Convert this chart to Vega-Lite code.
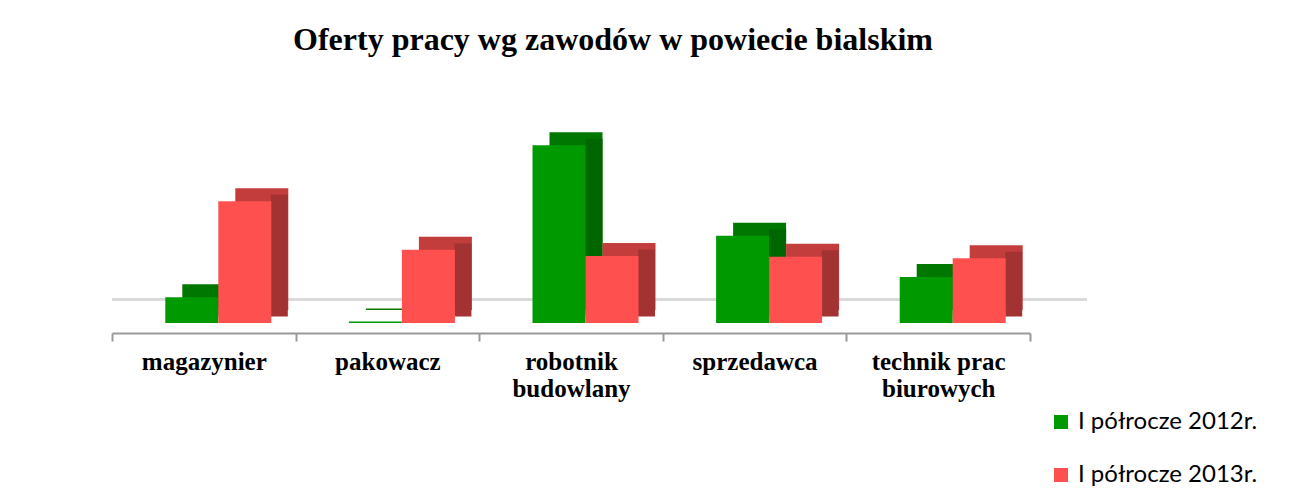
{
  "$schema": "https://vega.github.io/schema/vega-lite/v6.json",
  "width": 918,
  "height": 223,
  "autosize": {"type": "none"},
  "padding": {"left": 112, "top": 100, "right": 270, "bottom": 174},
  "background": "white",
  "config": {"view": {"stroke": null}},
  "title": {
    "text": "Oferty pracy wg zawodów w powiecie bialskim",
    "font": "Liberation Serif",
    "fontSize": 32,
    "fontWeight": "bold",
    "color": "#000000",
    "anchor": "middle",
    "dx": 42,
    "offset": 43
  },
  "data": {
    "values": [
      {"job": "magazynier", "series": "I półrocze 2012r.", "value": 3.3},
      {"job": "pakowacz", "series": "I półrocze 2012r.", "value": 0.2},
      {"job": "robotnik budowlany", "series": "I półrocze 2012r.", "value": 22.8},
      {"job": "sprzedawca", "series": "I półrocze 2012r.", "value": 11.2},
      {"job": "technik prac biurowych", "series": "I półrocze 2012r.", "value": 5.9},
      {"job": "magazynier", "series": "I półrocze 2013r.", "value": 15.6},
      {"job": "pakowacz", "series": "I półrocze 2013r.", "value": 9.4},
      {"job": "robotnik budowlany", "series": "I półrocze 2013r.", "value": 8.6},
      {"job": "sprzedawca", "series": "I półrocze 2013r.", "value": 8.5},
      {"job": "technik prac biurowych", "series": "I półrocze 2013r.", "value": 8.3}
    ]
  },
  "encoding": {
    "x": {
      "field": "job",
      "type": "nominal",
      "sort": null,
      "scale": {"paddingInner": 0, "paddingOuter": 0},
      "axis": {
        "title": null,
        "labelAngle": 0,
        "labelFont": "Liberation Serif",
        "labelFontSize": 25,
        "labelFontWeight": "bold",
        "labelColor": "#000000",
        "labelLineHeight": 27,
        "labelBaseline": "top",
        "labelPadding": 8,
        "labelLimit": 0,
        "labelExpr": "isString(datum.value) ? (datum.value == 'technik prac biurowych' ? ['technik prac', 'biurowych'] : split(datum.value, ' ')) : ''",
        "domainColor": "#999999",
        "domainWidth": 2,
        "tickColor": "#999999",
        "tickWidth": 2,
        "tickSize": 8,
        "tickBand": "extent",
        "offset": 10,
        "grid": false
      }
    },
    "y": {
      "field": "value",
      "type": "quantitative",
      "scale": {"domain": [0, 28.6], "nice": false},
      "axis": null
    }
  },
  "layer": [
    {
      "mark": {"type": "rule", "color": "#d9d9d9", "strokeWidth": 2, "xOffset": 57},
      "encoding": {"y": {"datum": 3}, "x": null}
    },
    {
      "transform": [{"filter": "datum.series == 'I półrocze 2012r.'"}],
      "mark": {"type": "bar", "width": 53, "xOffset": 5, "yOffset": -13, "color": "#007700"}
    },
    {
      "transform": [{"filter": "datum.series == 'I półrocze 2012r.'"}],
      "mark": {"type": "bar", "width": 17, "xOffset": 23, "yOffset": -6.5, "color": "#006600"}
    },
    {
      "transform": [{"filter": "datum.series == 'I półrocze 2012r.'"}],
      "mark": {"type": "bar", "width": 53, "xOffset": -12},
      "encoding": {
        "color": {
          "field": "series",
          "type": "nominal",
          "scale": {"domain": ["I półrocze 2012r.", "I półrocze 2013r."], "range": ["#009900", "#FF5050"]},
          "legend": {
            "title": null,
            "orient": "none",
            "legendX": 937,
            "legendY": 310,
            "labelFont": "Lato",
            "labelFontSize": 24,
            "labelColor": "#000000",
            "labelOffset": 5,
            "labelLimit": 400,
            "symbolType": "square",
            "symbolSize": 196,
            "symbolStrokeWidth": 0,
            "rowPadding": 29
          }
        }
      }
    },
    {
      "transform": [{"filter": "datum.series == 'I półrocze 2013r.'"}],
      "mark": {"type": "bar", "width": 53, "xOffset": 58, "yOffset": -13, "color": "#C43D3D"}
    },
    {
      "transform": [{"filter": "datum.series == 'I półrocze 2013r.'"}],
      "mark": {"type": "bar", "width": 17, "xOffset": 75.5, "yOffset": -6.5, "color": "#A33233"}
    },
    {
      "transform": [{"filter": "datum.series == 'I półrocze 2013r.'"}],
      "mark": {"type": "bar", "width": 53, "xOffset": 41},
      "encoding": {
        "color": {"field": "series", "type": "nominal"}
      }
    }
  ]
}
